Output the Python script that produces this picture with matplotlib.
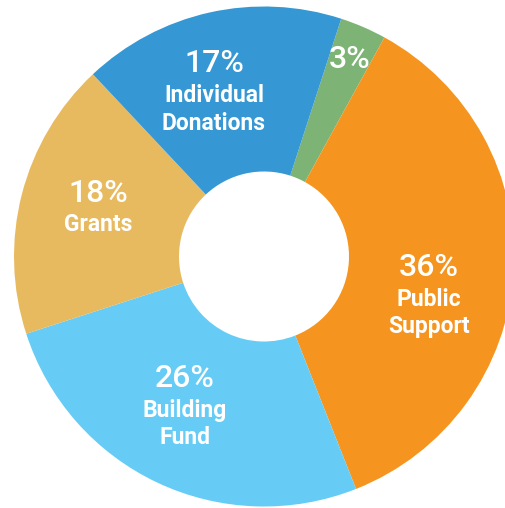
import matplotlib
matplotlib.use("Agg")
import matplotlib.pyplot as plt
import numpy as np

plt.rcParams['font.family'] = ['Roboto', 'DejaVu Sans']

# slices, clockwise starting just right of 12 o'clock
categories = ['', 'Public\nSupport', 'Building\nFund', 'Grants', 'Individual\nDonations']
shares = [3, 36, 26, 18, 17]
colors = ['#7DB374', '#F5951F', '#66CCF5', '#E8BA60', '#3598D4']

# label anchor (radius as fraction of outer radius, angle tweak in degrees)
label_r = [0.858, 0.667, 0.627, 0.693, 0.744]
label_shift = [-0.2, -4.8, -5.1, -2.3, 3.0]

fig = plt.figure(figsize=(5.05, 5.08), dpi=100)
W, H = 505, 508
cx, cy, R = 264, 508 - 256.5, 250
ax = fig.add_axes([(cx - R) / W, (cy - R) / H, 2 * R / W, 2 * R / H])

wedges, _ = ax.pie(shares, colors=colors, startangle=72, counterclock=False,
                   radius=1, wedgeprops=dict(width=0.66, linewidth=0),
                   frame=False)
ax.set_xlim(-1, 1)
ax.set_ylim(-1, 1)
ax.set_aspect('auto')
ax.axis('off')

for w, pct, name, r, sh in zip(wedges, shares, categories, label_r, label_shift):
    ang = np.radians((w.theta1 + w.theta2) / 2 + sh)
    x, y = r * np.cos(ang), r * np.sin(ang)
    if name:
        ax.text(x, y + 0.02, f'{pct}%', color='white', fontsize=23,
                fontweight='medium', ha='center', va='baseline')
        ax.text(x, y - 0.027, name, color='white', fontsize=16.5,
                fontweight='bold', ha='center', va='top', linespacing=1.25)
    else:
        ax.text(x, y, f'{pct}%', color='white', fontsize=23,
                fontweight='medium', ha='center', va='center')

fig.savefig('out.png', dpi=100)
